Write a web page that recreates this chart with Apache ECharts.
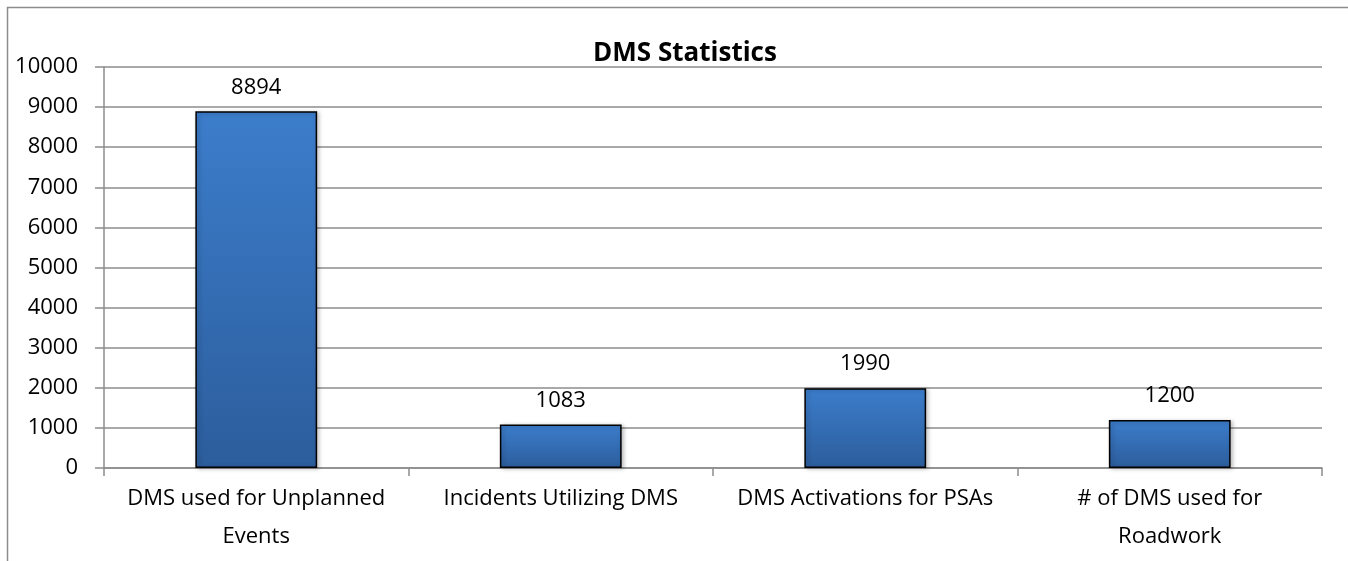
<!DOCTYPE html>
<html>
<head>
<meta charset="utf-8">
<script src="https://cdn.jsdelivr.net/npm/echarts@6/dist/echarts.min.js"></script>
<style>
  html, body { margin: 0; padding: 0; background: #fff; }
  #chart { width: 1348px; height: 561px; }
</style>
</head>
<body>
<div id="chart"></div>
<script>
// chart data
var categories = [
  "DMS used for Unplanned\nEvents",
  "Incidents Utilizing DMS",
  "DMS Activations for PSAs",
  "# of DMS used for\nRoadwork"
];
var values = [8894, 1083, 1990, 1200];
var yTicks = { min: 0, max: 10000, interval: 1000 };

var myChart = echarts.init(document.getElementById("chart"));
var font = "'Open Sans', sans-serif";

var option = {
  animation: false,
  title: {
    text: "DMS Statistics",
    left: 680,
    top: 36,
    textAlign: "center",
    textStyle: { fontFamily: font, fontWeight: "bold", fontSize: 26, color: "#000" }
  },
  graphic: [
    {
      type: "rect",
      shape: { x: 7.5, y: 7.5, width: 1400, height: 600 },
      style: { fill: "none", stroke: "#8c8c8c", lineWidth: 1.5 },
      silent: true
    }
  ],
  grid: { left: 104, right: 26, top: 67, bottom: 93 },
  xAxis: {
    type: "category",
    data: categories,
    axisLine: { lineStyle: { color: "#8c8c8c", width: 1.5 } },
    axisTick: { show: true, alignWithLabel: false, length: 8, lineStyle: { color: "#8c8c8c", width: 1.5 } },
    axisLabel: { fontFamily: font, fontSize: 22, color: "#000", margin: 12, lineHeight: 38, interval: 0 }
  },
  yAxis: {
    type: "value",
    min: yTicks.min,
    max: yTicks.max,
    interval: yTicks.interval,
    axisLine: { show: true, lineStyle: { color: "#8c8c8c", width: 1.5 } },
    axisTick: { show: true, length: 9, lineStyle: { color: "#8c8c8c", width: 1.5 } },
    axisLabel: {
      fontFamily: font, fontSize: 22, color: "#000", margin: 26,
      formatter: function (v) { return String(v); }
    },
    splitLine: { lineStyle: { color: "#8c8c8c", width: 1.5 } }
  },
  series: [
    {
      type: "bar",
      data: values,
      barWidth: "40%",
      itemStyle: {
        color: new echarts.graphic.LinearGradient(0, 0, 0, 1, [
          { offset: 0, color: "#3c7dcb" },
          { offset: 1, color: "#2c5d9c" }
        ]),
        borderColor: "#000",
        borderWidth: 1.5,
        shadowColor: "rgba(0,0,0,0.25)",
        shadowBlur: 4,
        shadowOffsetX: 2,
        shadowOffsetY: 1
      },
      label: {
        show: true,
        position: "top",
        distance: 13,
        fontFamily: font,
        fontSize: 22,
        color: "#000"
      }
    }
  ]
};

if (option && typeof option === "object") {
  myChart.clear();
  myChart.setOption(option, true);
}
</script>
</body>
</html>
